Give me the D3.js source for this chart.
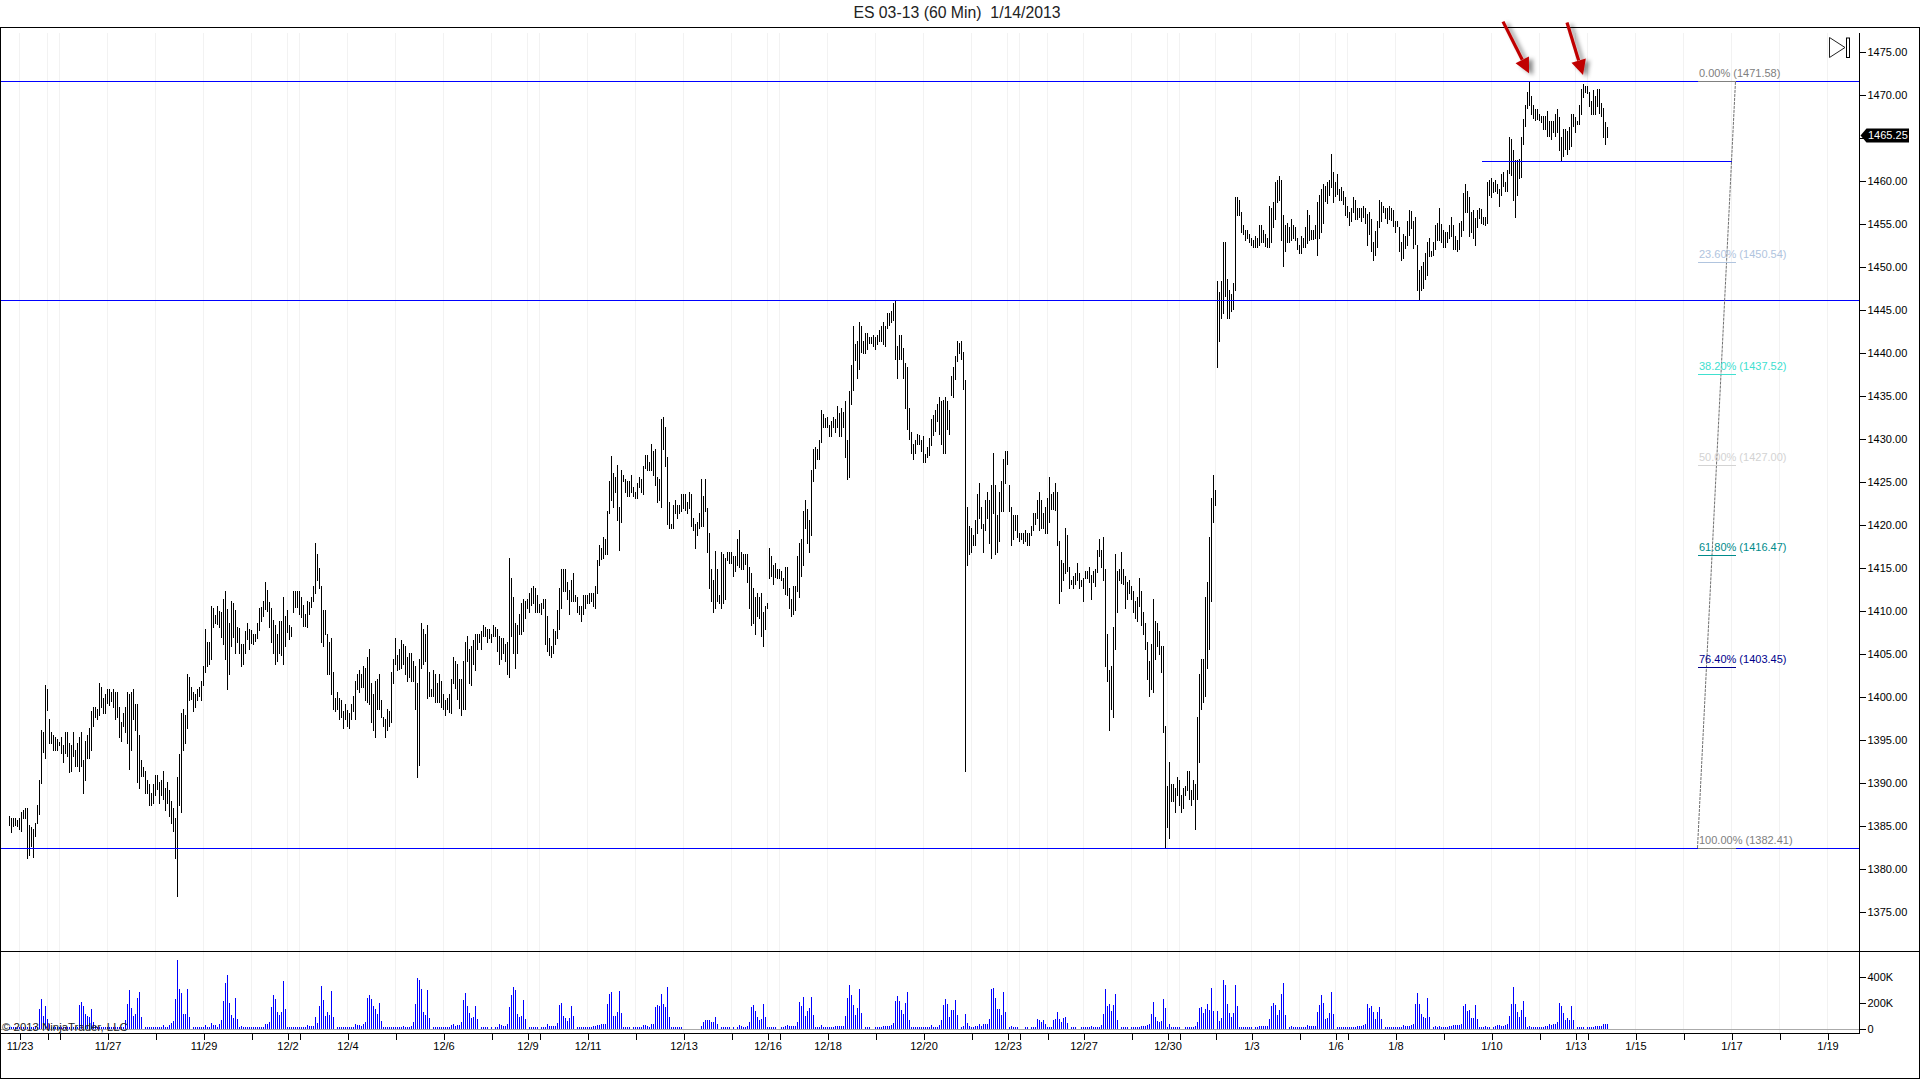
<!DOCTYPE html>
<html><head><meta charset="utf-8"><title>ES 03-13 (60 Min)</title>
<script src="https://cdn.jsdelivr.net/npm/d3@7/dist/d3.min.js"></script>
<style>
html,body{margin:0;padding:0;background:#fff;overflow:hidden}
svg{display:block}
text{font-family:"Liberation Sans",Arial,sans-serif}
</style></head><body>
<script>
const highs=[
1386.1,1385.9,1385.9,1385.9,1385.7,1385.9,1386.6,1386.8,1387.1,1387.1,
1385.1,1384.9,1384.6,1385.3,1387.4,1390.3,1396.1,1395.9,1401.4,1400.9,
1397.4,1395.9,1395.6,1395.3,1395.1,1394.7,1395.3,1394.4,1395.9,1395.9,
1394.6,1394.4,1395.9,1393.8,1394.6,1395.3,1395.9,1392.6,1394.9,1395.6,
1396.4,1398.3,1398.8,1398.8,1398.6,1401.6,1401.1,1399.9,1400.3,1400.9,
1400.9,1400.6,1400.9,1400.6,1400.6,1398.8,1397.1,1398.1,1398.8,1400.6,
1400.3,1400.6,1400.9,1399.2,1399.2,1395.6,1392.6,1391.8,1391.4,1390.3,
1389.9,1388.8,1389.9,1390.9,1390.9,1390.1,1390.3,1391.4,1389.4,1390.1,
1389.2,1387.9,1387.1,1385.9,1390.7,1393.3,1398.1,1398.6,1397.9,1402.6,
1402.3,1401.1,1400.6,1400.3,1400.9,1401.1,1401.8,1403.6,1407.9,1406.4,
1406.4,1410.5,1410.3,1409.5,1410.5,1410.0,1409.9,1411.4,1412.3,1410.2,
1408.6,1411.1,1410.9,1410.1,1408.1,1408.0,1406.1,1406.1,1407.6,1408.6,
1407.9,1407.8,1407.3,1407.3,1408.6,1410.3,1410.4,1411.1,1413.3,1412.4,
1411,1410.3,1408.9,1408.3,1407.3,1408.8,1408.8,1411.6,1409.4,1410.1,
1408.3,1408.1,1412.3,1412.3,1412.3,1412.3,1411.6,1410.7,1409.6,1411.1,
1411,1411.6,1412.9,1417.9,1416.6,1415,1412.9,1410.1,1410.1,1407.3,
1406.4,1406.8,1402.9,1399.9,1400.5,1399.9,1399.6,1398.3,1399.2,1398.5,
1398.1,1399.2,1400.1,1401.8,1402.6,1403.1,1402.6,1403.6,1403.3,1404.6,
1405.5,1401.6,1400.3,1401.8,1402.1,1402.6,1399.6,1397.6,1397.4,1398.6,
1398.3,1402.9,1404.4,1406.8,1404.9,1405.5,1406.6,1406.1,1405.9,1404.6,
1405.1,1405.1,1404.2,1403.6,1401.6,1404.4,1408.6,1407.9,1407.3,1408.3,
1402.9,1400.9,1403.1,1402.6,1401.6,1402.6,1401.8,1400.3,1399.6,1399.9,
1400.3,1402.1,1404.6,1404.2,1403.8,1402.1,1402.1,1404.2,1406.4,1407.1,
1405.5,1405.9,1406.6,1407.3,1407.3,1407.3,1407.6,1408.3,1408.1,1407.9,
1407.9,1407.3,1408.3,1408.1,1407.9,1407.1,1406.8,1406.8,1406.1,1406.4,
1416.1,1413.8,1411.6,1408.6,1408.3,1409.6,1410.9,1411.4,1411.1,1411.4,
1412.1,1412.6,1412.9,1412.6,1411.8,1410.8,1410.9,1411.4,1411.4,1409.4,
1406.8,1405.9,1407.9,1407.6,1410.1,1412.6,1414.9,1414.9,1414.9,1413.3,
1412.4,1413.6,1414.4,1411.8,1411.6,1410.5,1410.5,1411.8,1411.8,1411.8,
1412.1,1412.1,1412.1,1412.9,1415.9,1417.6,1417.3,1418.6,1418.3,1421.6,
1425.1,1428,1426,1425.5,1427,1422.1,1426.4,1425.8,1425.3,1425.1,
1425.1,1425.8,1424.4,1423.8,1424.8,1425.5,1425.3,1426.8,1428.1,1428.1,
1427.3,1429.4,1428.6,1428.8,1425.5,1425.3,1432.3,1432.5,1431.4,1427.9,
1422.6,1420.1,1422.3,1422.9,1422.3,1422.3,1423.6,1423.6,1423.6,1422.6,
1423.8,1423.6,1420.8,1420.1,1420.3,1421.4,1425.3,1423.3,1425.3,1422,
1419,1414.8,1413.6,1417,1414.8,1411.8,1416.8,1416.6,1416.1,1416.8,
1416.8,1416.8,1416.4,1416.4,1418.3,1419.4,1416.8,1416.6,1416.6,1416.6,
1415.1,1414.4,1412.6,1411.6,1412.1,1411.6,1412.1,1409.8,1410.5,1410.9,
1417.3,1416.4,1415.3,1415.5,1414.8,1414.8,1414.6,1413.8,1415.1,1415.1,
1412.6,1411.4,1412.9,1412.9,1416.4,1417.9,1418.3,1421.6,1422.9,1421.8,
1420.5,1426.4,1428.8,1429,1428.8,1429.8,1433.3,1432.9,1432.4,1432.5,
1431.6,1432.1,1432.5,1432.3,1433.8,1433,1433.6,1433.1,1434.4,1429.8,
1435.5,1438.6,1443.1,1441,1441.4,1443.6,1443.1,1441.4,1442.3,1442.3,
1441.8,1441.8,1442.1,1441.8,1442.1,1442.6,1443.1,1443.6,1443.1,1444.6,
1444.6,1444.8,1445.8,1446.1,1440.8,1442.1,1442.1,1440.5,1438.8,1438.3,
1433.6,1430.8,1429.4,1429.8,1430.5,1430.4,1429.8,1430.3,1428.2,1429,
1430.1,1432.3,1432.8,1433.3,1434,1434.8,1434.4,1434.5,1434.8,1434.4,
1433.3,1437.3,1438.3,1439.6,1441.4,1441.1,1441.4,1440.1,1436.8,1422.1,
1419.9,1419.6,1418.8,1420.5,1423.6,1424.9,1422.1,1420.1,1422.9,1423.8,
1422.9,1424.6,1428.3,1424.6,1421.1,1423.8,1425.1,1427.6,1428.6,1428.6,
1424.6,1422.1,1421.1,1421.1,1421.1,1419,1419,1419,1419.4,1419,
1419,1419.8,1421.4,1421.4,1422.9,1423.8,1422.9,1421.4,1422.1,1423.1,
1425.5,1423.6,1423.8,1424.9,1423.8,1418.1,1415.9,1415.6,1419.6,1418.8,
1415.1,1413.6,1414,1414.4,1415.5,1414.4,1413.6,1413.8,1414.6,1414.6,
1415.1,1414.2,1414.6,1414.9,1417.1,1418.3,1417.1,1418.6,1414.9,1407.3,
1403.1,1403.6,1408.1,1416.6,1414.6,1414.9,1416.8,1414.9,1414,1413.3,
1413.6,1412.9,1412.3,1411.1,1411.6,1413.8,1412.3,1409.9,1408.6,1406.4,
1404.2,1406.1,1411.4,1408.8,1408.6,1407.6,1405.9,1405.9,1396.6,1389.6,
1392.4,1389.9,1389.9,1389.4,1390.7,1390.3,1388.6,1389.4,1389.6,1391.4,
1391.4,1389.1,1390.3,1389.9,1397.6,1402.6,1404.4,1404.4,1411.6,1413.3,
1418.6,1423.1,1425.8,1424,1448.3,1447.1,1448.3,1452.9,1452.9,1448.6,
1447.3,1446.8,1448.1,1458.1,1458.1,1457.8,1456.4,1454.8,1454.3,1454.3,
1453.8,1453.3,1453.1,1453.6,1453.3,1454.8,1454.8,1454.3,1453.8,1453.3,
1457.1,1456.8,1457.5,1459.8,1460.1,1460.5,1460.1,1456,1454.8,1455.1,
1454.6,1455.5,1454.8,1454.6,1453.3,1452.5,1453.6,1453.3,1454.6,1456.6,
1456,1454.3,1454.3,1454.8,1457.5,1458.3,1459,1459.6,1459.4,1459.8,
1460.1,1463.1,1461,1459.8,1460.8,1459,1459.3,1458.8,1458.1,1457.1,
1456.4,1456.8,1458.1,1457.8,1456.8,1456.8,1456.8,1457.1,1456.8,1456.1,
1456.4,1455.5,1452.9,1454.1,1455.3,1457.8,1457.5,1457.1,1456.8,1456.8,
1457.1,1456.8,1456.6,1455.3,1455.3,1454.6,1452.9,1453.8,1453.6,1455.3,
1456.6,1456.5,1455.3,1455.8,1452.5,1449.6,1450.1,1450.5,1451.6,1452.9,
1453.3,1451.8,1452.9,1454.8,1455.1,1456.8,1455,1454.3,1454,1454,
1454.8,1455.8,1454.8,1453.6,1453.1,1455.1,1455.3,1458.6,1459.6,1458.8,
1458.1,1456.4,1456.6,1455.7,1456.6,1456.8,1456.7,1455.8,1455.8,1459.8,
1460.1,1460.3,1459.8,1460.1,1459.6,1459,1460.8,1461,1459.9,1461.3,
1465.1,1464.8,1463.6,1462.4,1462.4,1462.5,1465.1,1467.2,1468.8,1470.3,
1471.5,1469.8,1468.8,1468.3,1468.3,1467.8,1467.5,1467.5,1467.5,1468.1,
1467,1467,1467,1467.7,1468.3,1467.4,1465.1,1466,1466,1465.8,
1466.3,1467.7,1467.7,1467.4,1467,1468.8,1470.7,1471.3,1471,1471,
1470.3,1469.3,1470.5,1469.8,1470.7,1470.7,1469,1468.5,1466.8,1466.3];
const lows=[
1385,1384.1,1384.8,1385,1384.8,1384.5,1384.3,1385.8,1385.8,1381.1,
1381.5,1382.5,1381.3,1383.7,1385.2,1386.3,1389.8,1393.5,1392.8,1398.3,
1394.5,1394.5,1393.7,1393.7,1393.7,1394.3,1393.3,1392.3,1393.3,1393,
1391.1,1391.3,1393,1391.8,1391.8,1391.3,1391.8,1388.7,1390.2,1392.8,
1392.8,1393.7,1396.5,1397.5,1397.3,1397.8,1398.7,1398,1398,1399.2,
1398.9,1399.4,1398.7,1397.3,1397.5,1395.2,1394.7,1396.5,1395.8,1394.5,
1391.5,1393.7,1397.3,1396,1390,1389.3,1390.7,1390.7,1388.7,1388.7,
1387.3,1387.3,1387.5,1388.5,1389.2,1387.5,1388.5,1388,1386.7,1387.5,
1386,1385.2,1384.3,1381.1,1376.7,1387.3,1386.5,1393.7,1394.5,1396.3,
1399.5,1399.6,1398.2,1398.7,1399.5,1400,1399.5,1401.3,1402.8,1403.5,
1403.7,1404.3,1408,1408.5,1408.3,1408,1406.8,1406,1404.3,1400.8,
1402.5,1405.8,1406.8,1405,1406.2,1405,1403.5,1403.7,1405,1406.6,
1405.4,1406.1,1406,1406.4,1406.7,1407.6,1408.7,1409.3,1410.1,1409.9,
1408,1406.2,1405,1403.7,1404,1405,1404.7,1403.7,1405.8,1407.4,
1406.6,1407,1409.7,1410.3,1410.3,1409.5,1409.1,1408.1,1408.1,1408,
1409.5,1410.3,1411,1412,1413.4,1412.5,1406.2,1405.8,1407.2,1402.5,
1402.5,1400.2,1398.5,1398.2,1398.5,1397.3,1397.5,1396.2,1397.3,1396.5,
1396.2,1397.3,1398.2,1397.3,1400.8,1400.4,1401,1401,1399.5,1399.3,
1399,1397,1396,1395.2,1398.5,1398.5,1397.5,1396.5,1395.2,1396,
1396.5,1397,1401.5,1403.7,1403,1403.1,1403.2,1403.7,1402.5,1401.7,
1402.2,1401.7,1401.7,1398.5,1390.5,1392,1403.2,1403.7,1404,1399.7,
1400,1400,1400,1399.3,1399.3,1399.3,1398.7,1398.5,1397.8,1398.5,
1398.1,1398,1401.5,1400.9,1399.6,1398.6,1397.8,1398.5,1398.5,1404,
1401.5,1401.2,1403.7,1403,1405.4,1406.2,1405.4,1407,1407,1406.2,
1406.7,1406.2,1407,1407,1405.2,1403.7,1404.3,1405,1404,1402.5,
1402.2,1407,1405,1403.2,1405,1407.2,1407.2,1407.5,1409,1410.2,
1409.7,1410.5,1410.8,1409.7,1409.7,1409.7,1409.5,1410.2,1406,1405.2,
1404.7,1404.5,1405,1406,1406.7,1407.8,1410.2,1412.2,1412.2,1411.2,
1409.5,1411,1411,1411,1409.7,1409.5,1408.7,1409.5,1410.2,1410.8,
1410.8,1411,1410.4,1410.2,1412,1415.2,1415.9,1416,1416.5,1416.5,
1421.2,1422.8,1421.9,1423.7,1420.4,1417,1420.2,1425,1423.7,1423.2,
1423.2,1423.7,1423.2,1423,1423,1424.3,1423.7,1423.5,1426.5,1426.2,
1426.2,1426.2,1425.7,1424.5,1422.5,1422.8,1421.9,1428.7,1426.7,1420,
1419.5,1419.5,1419.5,1421.2,1420.7,1421.2,1421.5,1421.8,1421.6,1421.2,
1421.8,1419.7,1419.3,1417.2,1418.7,1419.5,1419.7,1419.7,1421.5,1416.7,
1412.5,1411,1409.7,1410.2,1411,1410.8,1410.2,1410.8,1411.2,1415.8,
1415.4,1415.4,1413.9,1414.5,1415.2,1415,1414.7,1414.7,1415.3,1413.2,
1410.2,1408.2,1408.5,1407.2,1409.3,1409,1407,1405.8,1407.8,1410.2,
1413.7,1413.9,1413,1413.8,1413.7,1413.7,1413.5,1412.5,1411.8,1411.7,
1410.2,1409.3,1409.5,1410,1412.2,1411.5,1413.9,1415.2,1419.5,1417.8,
1416.7,1418.7,1425,1426.5,1427.5,1427.5,1429.5,1431.2,1431.2,1431.2,
1430.2,1430.2,1431.2,1430.7,1431.2,1430.2,1430.2,1431.2,1427.8,1425.2,
1425.4,1433.9,1435.5,1439,1437,1438,1440,1439.9,1439.8,1440.3,
1441,1441,1440.7,1440.3,1440.9,1441.3,1441.2,1440.9,1440.7,1442.8,
1443.1,1443.4,1443.7,1439.1,1436.9,1439.1,1439.1,1436.9,1433.5,1431,
1429.8,1428.2,1427.5,1428.2,1429.3,1429.3,1428.4,1427.2,1427.2,1427.8,
1428,1429.1,1430.3,1430.8,1431.9,1430.4,1429.3,1428.2,1428.2,1431,
1430.4,1435,1434.7,1436.8,1438.9,1439.8,1439.1,1435.7,1391.2,1415.2,
1416.5,1416.7,1417.5,1417.5,1418.9,1420.7,1419.5,1416.7,1419.3,1420.7,
1417.8,1416,1421.2,1416.5,1416.7,1418,1421.5,1421.5,1424.7,1427,
1421.5,1417.5,1418.2,1419.3,1418.5,1418,1418.2,1417.8,1418,1417.5,
1417.5,1418.7,1419.3,1420,1420.7,1419.3,1419.5,1419.5,1418.9,1418.9,
1420.2,1421.7,1421.7,1421.6,1417.5,1410.8,1412.2,1413.5,1414.3,1414.5,
1412.5,1413,1412.5,1413,1413.5,1412.5,1412.8,1411,1413.7,1413.7,
1413.2,1411.2,1413.2,1412.8,1414.4,1416.2,1415,1413.5,1403.5,1401.7,
1396,1398.5,1397.5,1405.4,1409.7,1413.5,1413.1,1413,1410.2,1411.2,
1412,1411.2,1409.7,1409,1408.7,1410.4,1408.2,1407.2,1405.4,1402,
1400,1400.8,1400.4,1404.3,1405.8,1404.9,1402.8,1395.8,1382.4,1384.7,
1383.5,1387.8,1387.8,1386.5,1388.5,1387.3,1386.5,1387,1388.5,1389,
1388,1387.3,1388,1384.5,1388,1392.3,1398.5,1399.3,1400,1403.2,
1405.4,1411,1420.2,1422.2,1438.2,1441.2,1443.9,1444.5,1446.5,1443.9,
1443.9,1444.7,1445,1447.2,1455.9,1455.9,1453.9,1453.7,1453,1453.2,
1452.8,1452.4,1452.2,1452.2,1452.2,1452.4,1452.8,1452.8,1452.3,1452.2,
1452.2,1452.8,1454.5,1455.4,1457.4,1457.6,1453,1450,1451.7,1452.8,
1452.8,1453,1453.2,1453,1451.9,1451.5,1451.5,1452.2,1452.2,1452.6,
1453,1453.1,1453.1,1453.2,1451.2,1453.2,1453.9,1455,1457.5,1457.3,
1458.2,1459.2,1457.4,1458.1,1458.3,1457.6,1457.6,1457.2,1455.9,1455.7,
1454.7,1455.2,1456.2,1455.4,1455.4,1455.7,1455.2,1455.7,1455,1452.4,
1453.7,1451.7,1450.7,1451.2,1452.2,1454.5,1455.2,1456.2,1455.5,1455,
1455.4,1455.3,1454.6,1453.9,1454.6,1451.7,1450.7,1450.9,1452.1,1452.4,
1453.6,1454.4,1452.1,1452.5,1447.2,1446.1,1447.2,1447.4,1448.5,1448.9,
1451.1,1451.1,1451.2,1451.9,1453,1453,1452.8,1452.2,1452.2,1452.8,
1453.2,1453.5,1451.9,1451.9,1451.7,1451.9,1453.5,1454.1,1456.2,1456.2,
1453.5,1453.9,1453.2,1452.4,1454.5,1455.5,1455,1454.8,1454.7,1455,
1458.2,1458,1458.6,1458.7,1458.5,1456.9,1458.2,1459.3,1458.7,1458.7,
1460.8,1460.5,1457.6,1455.7,1458.2,1460.2,1460.3,1464.1,1466.2,1468.3,
1468.7,1467.6,1467.2,1467,1467.1,1466.9,1466.7,1465.9,1465.9,1465.1,
1465.1,1464.7,1465.5,1465.1,1465.5,1463.4,1462.2,1462.7,1463.6,1463,
1463.6,1463.9,1466.3,1465.5,1466.5,1466.5,1467.6,1469.6,1470.2,1470.1,
1468.6,1467.6,1467.6,1467.6,1468.6,1467.8,1467.4,1465,1464.2,1465];
const volumes=[
10,13,13,13,10,13,16,13,13,13,
10,13,16,13,13,153,231,99,177,75,
36,13,13,13,13,13,13,13,13,13,
13,13,13,13,13,185,208,177,114,99,
94,153,52,20,13,13,13,13,13,13,
13,13,13,13,13,13,13,13,68,192,
302,161,99,114,239,286,91,0,13,13,
13,13,13,13,13,13,13,26,13,16,
31,42,60,231,536,309,278,114,114,309,
88,0,10,13,13,13,13,13,29,13,
13,44,29,29,16,36,68,216,354,419,
200,107,83,239,78,10,21,13,13,13,
13,13,13,13,13,13,16,16,36,36,
52,169,263,231,130,107,130,372,153,13,
13,13,10,13,13,13,13,13,13,29,
21,21,21,91,44,177,333,224,99,130,
107,294,91,0,13,13,13,13,13,13,
13,13,13,36,29,29,21,36,52,239,
263,231,177,153,114,200,60,13,13,13,
13,10,13,13,13,10,13,21,16,13,
13,21,52,192,395,380,309,130,107,302,
83,0,13,13,13,13,13,13,13,13,
16,31,36,21,26,26,52,224,278,177,
122,86,91,177,78,0,13,13,13,13,
0,13,0,13,16,34,26,21,21,36,
169,263,325,302,114,91,99,224,75,0,
13,13,13,13,13,0,13,13,13,36,
21,21,21,21,44,185,200,99,83,60,
83,177,99,0,13,13,13,13,13,13,
16,16,18,21,26,31,36,36,36,192,
270,286,99,99,130,294,122,13,13,13,
10,0,13,13,13,13,10,26,26,21,
10,36,36,169,185,177,270,192,169,325,
91,10,10,10,10,10,10,0,0,0,
0,0,0,0,0,0,21,52,68,68,
68,52,52,91,36,0,10,10,10,10,
10,0,10,0,10,26,21,13,13,21,
52,169,185,138,91,68,75,192,91,16,
16,10,10,10,0,0,10,16,21,29,
21,21,21,21,52,208,177,247,99,138,
161,247,107,13,13,13,29,10,10,10,
10,10,10,21,21,21,21,21,99,239,
341,263,185,107,161,309,122,0,13,13,
13,0,0,10,10,16,16,21,21,21,
21,29,44,216,255,216,146,114,200,286,
68,10,10,10,10,10,10,10,10,10,
10,29,10,10,16,29,68,185,231,192,
91,146,146,224,107,0,10,21,114,44,
21,16,13,21,21,36,21,36,36,36,
75,309,317,239,153,153,107,286,130,0,
10,21,10,10,10,0,0,0,10,10,
0,10,10,10,75,68,52,68,36,13,
13,10,68,75,130,75,52,83,91,44,
0,10,10,10,0,0,10,10,10,13,
10,21,13,13,13,13,29,114,309,177,
192,138,185,270,68,0,13,13,13,13,
0,13,13,13,13,13,21,21,21,29,
36,114,208,91,60,52,60,231,161,13,
36,10,10,10,10,10,0,0,13,13,
13,13,13,21,52,161,169,122,153,192,
146,317,138,0,138,60,83,380,341,192,
122,91,122,341,177,10,10,10,10,10,
10,10,0,13,13,21,21,21,21,21,
75,177,200,185,107,146,270,356,107,0,
10,21,10,10,10,10,10,10,10,29,
21,21,21,21,130,185,263,200,75,83,
122,286,114,0,13,13,13,13,13,13,
13,13,13,13,21,21,21,29,36,192,
161,177,130,75,130,169,75,0,13,13,
13,13,13,13,13,13,13,29,21,21,
21,29,36,192,278,192,114,91,83,239,
91,0,10,21,10,21,13,13,13,13,
21,21,26,29,29,29,36,177,192,138,
146,83,83,185,75,13,13,13,21,13,
13,0,13,21,29,29,21,21,29,36,
99,192,325,192,130,91,146,216,91,13,
21,13,13,13,13,13,13,13,21,21,
36,29,36,36,52,200,177,122,68,83,
68,177,68,0,13,13,13,13,0,13,
13,16,16,21,21,21,21,36,36,36];

const priceTicks=[1475,1470,1465,1460,1455,1450,1445,1440,1435,1430,1425,1420,1415,1410,1405,1400,1395,1390,1385,1380,1375];
const volumeTicks=[0,200,400];
const gridBars=[5,19,25,49,73,97,121,139,145,169,193,217,241,259,265,289,313,337,361,379,385,409,433,457,481,499,505,519,537,561,579,585,603,621,645,663,669,693,717,741,765,783,789,813,837,861,885,909];
const dateBars=[5,49,97,139,169,217,259,289,337,379,409,457,499,537,579,621,663,693,741,783,813,861,909];
const dateLabels=["11/23","11/27","11/29","12/2","12/4","12/6","12/9","12/11","12/13","12/16","12/18","12/20","12/23","12/27","12/30","1/3","1/6","1/8","1/10","1/13","1/15","1/17","1/19"];
const supportPrices=[1471.58,1446.1,1382.41];
const shortLinePrice=1462.25, shortLineBars=[736.25,861.25];
const fibPercents=["0.00%","23.60%","38.20%","50.00%","61.80%","76.40%","100.00%"];
const fibPrices=[1471.58,1450.54,1437.52,1427.00,1416.47,1403.45,1382.41];
const fibColors=["#808080","#b0c4de","#40e0d0","#d3d3d3","#008b8b","#00008b","#808080"];
const fibBars=[844,863];
const lastPrice=1465.25;
const arrowsFrom=[[746.75,1478.5],[778.75,1478.4]];
const arrowsTo=[[759.75,1472.5],[786.75,1472.3]];

const W=1920,H=1079;
const svg=d3.select("body").append("svg").attr("width",W).attr("height",H).attr("viewBox",`0 0 ${W} ${H}`);
const x=d3.scaleLinear().domain([0,800]).range([9.5,1609.5]);
const y=d3.scaleLinear().domain([1475,1375]).range([51.7,911.7]);
const v=d3.scaleLinear().domain([0,400]).range([1028.7,977.3]);
const axisX=1859.5, topY=27.5, midY=951.5, botY=1033.5;

const defs=svg.append("defs");
const f=defs.append("filter").attr("id","sh").attr("x","-50%").attr("y","-50%").attr("width","200%").attr("height","200%");
f.append("feDropShadow").attr("dx",4).attr("dy",2).attr("stdDeviation",2).attr("flood-color","#000").attr("flood-opacity",0.45);

// grid
svg.append("g").selectAll("line").data(gridBars).join("line")
 .attr("x1",d=>x(d)).attr("x2",d=>x(d)).attr("y1",topY+5).attr("y2",botY)
 .attr("stroke","#f2f2f2").attr("shape-rendering","crispEdges");

// zero volume line
svg.append("line").attr("x1",0).attr("x2",axisX).attr("y1",Math.round(v(0))+.5).attr("y2",Math.round(v(0))+.5).attr("stroke","#aaaaaa").attr("shape-rendering","crispEdges");

// volume bars
svg.append("g").selectAll("line").data(volumes).join("line")
 .attr("x1",(d,i)=>x(i)).attr("x2",(d,i)=>x(i)).attr("y1",v(0)).attr("y2",d=>v(d))
 .attr("stroke","#0000ff").attr("shape-rendering","crispEdges");

// price bars
svg.append("g").selectAll("line").data(highs).join("line")
 .attr("x1",(d,i)=>x(i)).attr("x2",(d,i)=>x(i)).attr("y1",d=>y(d)).attr("y2",(d,i)=>y(lows[i]))
 .attr("stroke","#000").attr("shape-rendering","crispEdges");

// horizontal support lines
svg.append("g").selectAll("line").data(supportPrices).join("line")
 .attr("x1",0).attr("x2",axisX).attr("y1",d=>Math.round(y(d))+.5).attr("y2",d=>Math.round(y(d))+.5)
 .attr("stroke","#0000ff").attr("stroke-width",1).attr("shape-rendering","crispEdges");
svg.append("line").attr("x1",x(shortLineBars[0])).attr("x2",x(shortLineBars[1]))
 .attr("y1",Math.round(y(shortLinePrice))+.5).attr("y2",Math.round(y(shortLinePrice))+.5)
 .attr("stroke","#0000ff").attr("shape-rendering","crispEdges");

// fibonacci
svg.append("line").attr("x1",x(fibBars[0])).attr("y1",y(fibPrices[6])).attr("x2",x(fibBars[1])).attr("y2",y(fibPrices[0]))
 .attr("stroke","#707070").attr("stroke-dasharray","3,1").attr("fill","none");
const fib=svg.append("g");
fib.selectAll("line").data(fibPrices).join("line")
 .attr("x1",x(fibBars[0])).attr("x2",x(fibBars[1])).attr("y1",d=>Math.round(y(d))+.5).attr("y2",d=>Math.round(y(d))+.5)
 .attr("stroke",(d,i)=>fibColors[i]).attr("shape-rendering","crispEdges");
fib.selectAll("text").data(fibPrices).join("text")
 .attr("x",x(fibBars[0])+1.5).attr("y",d=>y(d)-4)
 .attr("font-size",11).attr("fill",(d,i)=>fibColors[i])
 .text((d,i)=>`${fibPercents[i]} (${d3.format(".2f")(d)})`);

// frame
const frame=svg.append("g").attr("stroke","#000").attr("shape-rendering","crispEdges");
frame.append("line").attr("x1",0).attr("x2",W).attr("y1",topY).attr("y2",topY);
frame.append("line").attr("x1",0).attr("x2",W).attr("y1",midY).attr("y2",midY);
frame.append("line").attr("x1",0).attr("x2",axisX).attr("y1",botY).attr("y2",botY);
frame.append("line").attr("x1",0).attr("x2",W).attr("y1",H-1).attr("y2",H-1);
frame.append("line").attr("x1",.5).attr("x2",.5).attr("y1",topY).attr("y2",H-1);
frame.append("line").attr("x1",W-.5).attr("x2",W-.5).attr("y1",topY).attr("y2",H-1);
frame.append("line").attr("x1",axisX).attr("x2",axisX).attr("y1",topY+5).attr("y2",botY);

// axes
function styleAxis(g){
 g.select(".domain").remove();
 g.selectAll(".tick line").attr("stroke","#000").attr("shape-rendering","crispEdges");
 g.selectAll("text").attr("fill","#000").attr("font-family",'"Liberation Sans",Arial,sans-serif');
}
svg.append("g").attr("transform",`translate(${axisX},0)`)
 .call(d3.axisRight(y).tickValues(priceTicks).tickSize(6).tickPadding(2).tickFormat(d3.format(".2f")))
 .call(styleAxis).selectAll("text").attr("font-size",11);
svg.append("g").attr("transform",`translate(${axisX},0)`)
 .call(d3.axisRight(v).tickValues(volumeTicks).tickSize(6).tickPadding(2).tickFormat(d=>d?d+"K":"0"))
 .call(styleAxis).selectAll("text").attr("font-size",11);
const dateAxis=d3.axisBottom(x).tickValues(gridBars).tickSize(6).tickPadding(3)
 .tickFormat(d=>{const k=dateBars.indexOf(d);return k<0?"":dateLabels[k];});
svg.append("g").attr("transform",`translate(0,${botY})`).call(dateAxis).call(styleAxis).selectAll("text").attr("font-size",11);

// last price tag
const ly=y(lastPrice);
svg.append("path").attr("d",`M${axisX+1} ${ly} L${axisX+7} ${ly-7} H1909 V${ly+7} H${axisX+7} Z`).attr("fill","#000");
svg.append("text").attr("x",1868).attr("y",ly+3.8).attr("font-size",11).attr("fill","#fff").text(d3.format(".2f")(lastPrice));

// arrows
const arrowG=svg.append("g").attr("filter","url(#sh)");
arrowsFrom.forEach((a,k)=>{
 const b=arrowsTo[k];
 const x0=x(a[0]),y0=y(a[1]),x1=x(b[0]),y1=y(b[1]);
 const L=Math.hypot(x1-x0,y1-y0),ux=(x1-x0)/L,uy=(y1-y0)/L;
 const hx=x1-ux*15,hy=y1-uy*15,nx=-uy,ny=ux;
 arrowG.append("line").attr("x1",x0).attr("y1",y0).attr("x2",hx).attr("y2",hy).attr("stroke","#c00000").attr("stroke-width",3.2);
 arrowG.append("path").attr("d",`M${x1} ${y1} L${hx+nx*7.5} ${hy+ny*7.5} L${hx-nx*7.5} ${hy-ny*7.5} Z`).attr("fill","#c00000");
});

// end-of-chart icon
svg.append("path").attr("d","M1829.5 37.5 L1845 47.5 L1829.5 57.5 Z").attr("fill","#fff").attr("stroke","#222").attr("stroke-width",1);
svg.append("rect").attr("x",1846.5).attr("y",38).attr("width",3).attr("height",19.5).attr("fill","#fff").attr("stroke","#000");

// title, copyright
svg.append("text").attr("x",957).attr("y",18).attr("text-anchor","middle").attr("font-size",15.8).attr("fill","#222").attr("xml:space","preserve").text("ES 03-13 (60 Min)  1/14/2013");
svg.append("text").attr("x",2).attr("y",1031).attr("font-size",11.4).attr("fill","#222").text("© 2013 NinjaTrader, LLC");
</script>
</body></html>
